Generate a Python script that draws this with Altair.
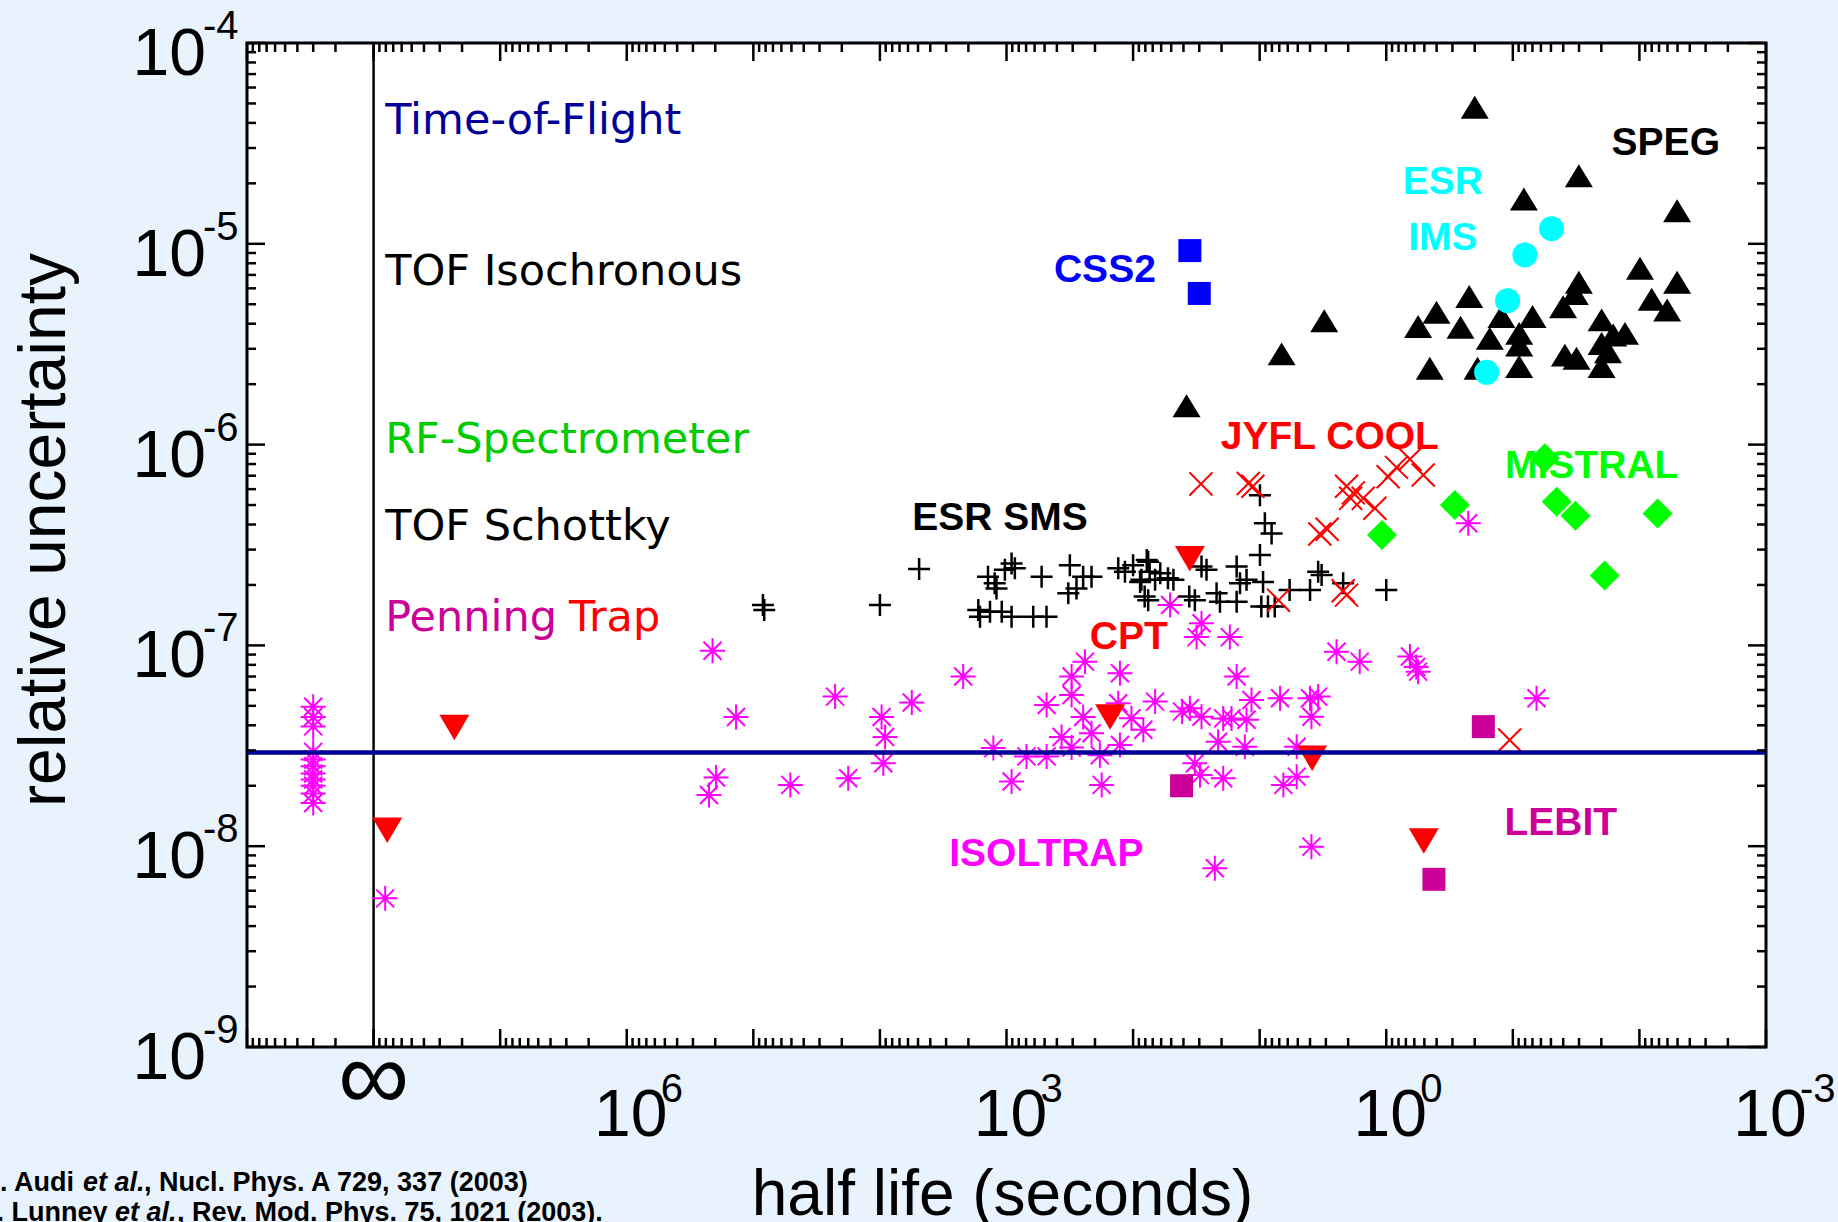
import altair as alt
import pandas as pd

# ---------------- data (half life [s], relative uncertainty) ----------------
STABLE_T = 3.0e8  # stable nuclides are drawn left of the "infinity" line
isoltrap_stable_u = [4.95e-8, 4.4e-8, 3.95e-8, 2.95e-8, 2.7e-8, 2.5e-8, 2.3e-8,
                     2.15e-8, 2.0e-8, 1.83e-8, 1.64e-8]

isoltrap = [
    (8.1e7, 5.5e-9), (2.1e5, 9.4e-8), (1.37e5, 4.4e-8), (1.97e5, 2.2e-8), (2.24e5, 1.8e-8),
    (2.26e4, 5.56e-8), (5.1e4, 2.02e-8), (1.78e4, 2.18e-8), (9.7e3, 4.4e-8), (9.1e3, 3.5e-8),
    (9.4e3, 2.59e-8), (5.6e3, 5.2e-8), (2.2e3, 7.0e-8), (1.27e3, 3.08e-8), (912, 2.1e-8),
    (695, 2.8e-8), (482, 2.8e-8), (482, 5.05e-8), (367, 3.5e-8), (306, 3.1e-8),
    (306, 7.0e-8), (306, 5.66e-8), (240, 8.3e-8), (248, 4.4e-8), (213, 3.65e-8),
    (183, 2.84e-8), (177, 2.02e-8), (127, 7.26e-8), (131, 5.15e-8), (127, 3.19e-8),
    (103, 4.34e-8), (83, 3.8e-8), (51, 1.59e-7), (28.8, 1.29e-7), (31.5, 1.1e-7),
    (17.2, 1.1e-7), (15.2, 7.0e-8), (2.47, 9.3e-8), (1.62, 8.3e-8), (0.65, 8.8e-8),
    (0.58, 7.8e-8), (0.56, 7.4e-8), (0.065, 5.45e-8), (0.225, 4.06e-7), (67, 5.25e-8),
    (41, 4.68e-8), (28.8, 4.41e-8), (19.4, 4.33e-8), (11.6, 5.35e-8), (6.9, 5.45e-8),
    (4.0, 5.45e-8), (3.45, 5.56e-8), (12.7, 4.26e-8), (3.9, 4.41e-8), (21.3, 3.31e-8),
    (13.1, 3.13e-8), (5.1, 3.13e-8), (32.5, 2.59e-8), (29.6, 2.26e-8), (19.4, 2.18e-8),
    (6.5, 2.02e-8), (5.1, 2.22e-8), (3.9, 9.95e-9), (22.6, 7.76e-9), (35.6, 4.86e-8),
    (16.7, 4.33e-8),
]

esr_sms = [
    (8.4e4, 1.59e-7), (8.2e4, 1.5e-7), (1.0e4, 1.59e-7), (4.9e3, 2.4e-7), (1.4e3, 2.2e-7),
    (1.24e3, 2.04e-7), (1.2e3, 1.92e-7), (1.03e3, 2.38e-7), (912, 2.56e-7), (859, 2.42e-7),
    (528, 2.2e-7), (316, 2.51e-7), (248, 2.2e-7), (213, 2.2e-7), (325, 1.82e-7),
    (280, 1.92e-7), (131, 2.42e-7), (116, 2.33e-7), (100, 2.51e-7), (88, 2.07e-7),
    (78, 2.66e-7), (81, 1.75e-7), (1.67e3, 1.5e-7), (1.62e3, 1.39e-7), (1.35e3, 1.47e-7),
    (1.09e3, 1.47e-7), (912, 1.39e-7), (615, 1.39e-7), (483, 1.39e-7), (76, 2.61e-7),
    (74, 2.33e-7), (86, 2.12e-7), (76, 1.68e-7), (67, 2.12e-7), (61, 2.29e-7),
    (53, 2.16e-7), (48, 2.12e-7), (36, 1.75e-7), (32.5, 1.68e-7), (28.8, 2.47e-7),
    (26.3, 2.38e-7), (21.9, 1.82e-7), (20.6, 1.65e-7), (15.2, 2.47e-7), (14.3, 2.04e-7),
    (12.7, 2.12e-7), (9.95, 2.82e-7), (9.4, 2.07e-7), (15.2, 1.65e-7), (9.7, 1.56e-7),
    (8.6, 1.56e-7), (7.6, 1.56e-7), (5.8, 1.89e-7), (4.0, 1.89e-7), (3.45, 2.33e-7),
    (3.24, 2.24e-7), (2.19, 2.04e-7), (1.0, 1.89e-7), (9.95, 5.6e-7), (9.1, 4.06e-7),
    (8.05, 3.61e-7),
]

speg = [
    (0.2, 4.79e-5), (0.0301, 2.18e-5), (0.0818, 1.67e-5), (5.04e-3, 1.46e-5), (9.9e-3, 7.55e-6),
    (5.04e-3, 6.43e-6), (0.0301, 6.43e-6), (0.0324, 5.66e-6), (0.0401, 4.86e-6), (8.0e-3, 5.3e-6),
    (6.04e-3, 4.68e-6), (0.221, 5.46e-6), (0.401, 4.56e-6), (0.56, 3.87e-6), (0.259, 3.84e-6),
    (0.123, 4.34e-6), (0.0699, 4.34e-6), (0.152, 3.38e-6), (0.0891, 3.58e-6), (0.0891, 3.13e-6),
    (0.0199, 4.18e-6), (0.013, 3.58e-6), (0.0161, 3.51e-6), (0.0199, 3.19e-6), (0.0177, 2.9e-6),
    (0.0388, 2.79e-6), (0.0314, 2.69e-6), (0.0199, 2.45e-6), (0.0891, 2.45e-6), (0.453, 2.4e-6),
    (0.19, 2.4e-6), (3.09, 4.14e-6), (6.71, 2.83e-6), (37.8, 1.56e-6),
]

jyfl = [
    (29.1, 6.37e-7), (12.3, 6.4e-7), (11.3, 6.2e-7), (3.35, 3.59e-7), (2.93, 3.79e-7),
    (2.06, 6.2e-7), (1.82, 5.75e-7), (1.91, 5.4e-7), (1.52, 5.4e-7), (1.23, 4.82e-7),
    (0.966, 6.92e-7), (0.83, 7.7e-7), (0.65, 8.45e-7), (0.51, 7.06e-7), (7.1, 1.68e-7),
    (2.19, 1.87e-7), (2.06, 1.78e-7), (0.106, 3.38e-8),
]

penning_red = [(2.3e7, 3.9e-8), (7.8e7, 1.2e-8), (35.6, 2.7e-7), (152, 4.4e-8),
               (3.85, 2.74e-8), (0.505, 1.06e-8)]
lebit = [(41.4, 2.0e-8), (0.171, 3.94e-8), (0.42, 6.84e-9)]
mistral = [(1.08, 3.55e-7), (0.287, 5.0e-7), (0.0558, 8.55e-7), (0.045, 5.2e-7),
           (0.032, 4.42e-7), (0.0188, 2.23e-7), (0.00718, 4.54e-7)]
esr_ims = [(0.0494, 1.19e-5), (0.0804, 8.8e-6), (0.110, 5.21e-6), (0.161, 2.29e-6)]
css2 = [(35.6, 9.25e-6), (30, 5.66e-6)]

INFINITY_T = 1e8
TOF_LIMIT_U = 2.93e-8

y_tick_values = [1e-9, 1e-8, 1e-7, 1e-6, 1e-5, 1e-4]
y_tick_exps = ["-9", "-8", "-7", "-6", "-5", "-4"]
x_label_values = [1e6, 1e3, 1.0, 1e-3]
x_label_exps = ["6", "3", "0", "-3"]

bold_text = ["SPEG", "ESR", "IMS", "CSS2", "JYFL COOL", "MISTRAL", "ESR SMS", "CPT", "ISOLTRAP", "LEBIT"]
bold_t = [6.19e-3, 0.357, 0.357, 167, 2.79, 0.0238, 1127, 108, 484, 0.0418]
bold_u = [3.16e-5, 2.03e-5, 1.07e-5, 7.41e-6, 1.09e-6, 7.82e-7, 4.33e-7, 1.1e-7, 9.14e-9, 1.31e-8]
bold_color = ["#000000", "#00ffff", "#00ffff", "#0000ff", "#ff0000", "#00ff00", "#000000",
              "#ff0000", "#ff00ff", "#cc0099"]

left_text = ["Time-of-Flight", "TOF Isochronous", "RF-Spectrometer", "TOF Schottky", "Penning", "Trap"]
left_t = [8.1e7, 8.1e7, 8.1e7, 8.1e7, 8.1e7, 2.86e6]
left_u = [4.1e-5, 7.24e-6, 1.05e-6, 3.9e-7, 1.37e-7, 1.37e-7]
left_color = ["#000099", "#000000", "#00cc00", "#000000", "#cc0099", "#ff0000"]

# ---------------- chart ----------------
W, H = 1519, 1004
SANS = "Liberation Sans, Arial, sans-serif"
HUMAN = "DejaVu Sans, Verdana, sans-serif"

xs = alt.Scale(type="log", domain=[1e-3, 1e9], reverse=True, nice=False)
ys = alt.Scale(type="log", domain=[1e-9, 1e-4], nice=False)

X = lambda f: alt.X(f, type="quantitative", scale=xs, axis=None)
Y = lambda f: alt.Y(f, type="quantitative", scale=ys, axis=None)

STAR = "M-1,0L1,0M0,-1L0,1M-0.72,-0.72L0.72,0.72M-0.72,0.72L0.72,-0.72"
XCROSS = "M-1,-1L1,1M-1,1L1,-1"
PLUS = "M-1,0L1,0M0,-1L0,1"
TRI_UP = "M0,-0.82L1,0.82L-1,0.82Z"
TRI_DOWN = "M-1,-0.85L1,-0.85L0,0.85Z"


def points(pairs, shape, color, size, filled, sw=2.0):
    df = pd.DataFrame(pairs, columns=["t", "u"])
    return alt.Chart(df).mark_point(
        shape=shape, size=size, filled=filled, color=color, opacity=1, strokeWidth=sw
    ).encode(x=X("t"), y=Y("u"))


stable_df = pd.DataFrame({"t": [STABLE_T] * len(isoltrap_stable_u), "u": isoltrap_stable_u})
stable_layer = alt.Chart(stable_df).mark_point(
    shape=STAR, size=625, filled=False, color="#ff00ff", opacity=1, strokeWidth=2
).encode(x=X("t"), y=Y("u"))

inf_line = alt.Chart(pd.DataFrame({"t": [INFINITY_T]})).mark_rule(
    color="black", strokeWidth=2.5).encode(x=X("t"))
tof_line = alt.Chart(pd.DataFrame({"u": [TOF_LIMIT_U]})).mark_rule(
    color="#000099", strokeWidth=4.5).encode(y=Y("u"))

# tick marks pointing inward on all four sides
x_major = [10.0 ** k for k in range(-3, 10)]
x_minor = [m * 10.0 ** k for k in range(-3, 9) for m in range(2, 10)]
y_major = [10.0 ** k for k in range(-9, -3)]
y_minor = [m * 10.0 ** k for k in range(-9, -4) for m in range(2, 10)]


def xtick(vals, a, b):
    return alt.Chart(pd.DataFrame({"v": vals})).mark_rule(color="black", strokeWidth=2.5).encode(
        x=X("v"), y=alt.value(a), y2=alt.value(b))


def ytick(vals, a, b):
    return alt.Chart(pd.DataFrame({"v": vals})).mark_rule(color="black", strokeWidth=2.5).encode(
        y=Y("v"), x=alt.value(a), x2=alt.value(b))


ticks = [
    xtick(x_major, H, H - 18), xtick(x_minor, H, H - 9),
    xtick(x_major, 0, 18), xtick(x_minor, 0, 9),
    ytick(y_major, 0, 18), ytick(y_minor, 0, 9),
    ytick(y_major, W, W - 18), ytick(y_minor, W, W - 9),
]

ylab_df = pd.DataFrame({"v": y_tick_values, "e": y_tick_exps})
y_ten = alt.Chart(ylab_df).mark_text(text="10", font=SANS, fontSize=66, align="right",
                                     baseline="middle", dy=12).encode(x=alt.value(-41), y=Y("v"))
y_exp = alt.Chart(ylab_df).mark_text(font=SANS, fontSize=40, align="left", baseline="middle",
                                     dy=-16).encode(x=alt.value(-44), y=Y("v"), text="e:N")

xlab_df = pd.DataFrame({"v": x_label_values, "e": x_label_exps})
x_ten = alt.Chart(xlab_df).mark_text(text="10", font=SANS, fontSize=66, align="center",
                                     baseline="middle", dx=4).encode(x=X("v"), y=alt.value(H + 69))
x_exp = alt.Chart(xlab_df).mark_text(font=SANS, fontSize=40, align="left", baseline="middle",
                                     dx=34).encode(x=X("v"), y=alt.value(H + 43), text="e:N")
x_inf = alt.Chart(pd.DataFrame({"v": [INFINITY_T]})).mark_text(
    text="\u221e", font=SANS, fontSize=100, align="center", baseline="middle"
).encode(x=X("v"), y=alt.value(H + 33))

y_title = alt.Chart(pd.DataFrame({"a": [0]})).mark_text(
    text="relative uncertainty", font=SANS, fontSize=66, angle=270, align="center",
    baseline="alphabetic").encode(x=alt.value(-182), y=alt.value(487))
x_title = alt.Chart(pd.DataFrame({"a": [0]})).mark_text(
    text="half life (seconds)", font=SANS, fontSize=64, align="center",
    baseline="alphabetic").encode(x=alt.value(W / 2 - 4), y=alt.value(1172))

# citations (partly cut at the left edge, as in the original)
cite_parts = [
    ("G. Audi", "normal", -268, 1148), ("et al.", "italic", -164, 1148),
    (", Nucl. Phys. A 729, 337 (2003)", "normal", -103, 1148),
    ("D. Lunney", "normal", -270, 1178), ("et al.", "italic", -132, 1178),
    (", Rev. Mod. Phys. 75, 1021 (2003).", "normal", -70, 1178),
]
cites = []
for txt, style, px, py in cite_parts:
    cites.append(alt.Chart(pd.DataFrame({"a": [0]})).mark_text(
        text=txt, font=SANS, fontSize=27, fontWeight="bold", fontStyle=style, align="left",
        baseline="alphabetic", color="black").encode(x=alt.value(px), y=alt.value(py)))

bold_df = pd.DataFrame({"text": bold_text, "t": bold_t, "u": bold_u, "c": bold_color})
bold_layer = alt.Chart(bold_df).mark_text(font=SANS, fontSize=39, fontWeight="bold",
                                          align="center", baseline="middle").encode(
    x=X("t"), y=Y("u"), text="text:N", color=alt.Color("c:N", scale=None))

left_df = pd.DataFrame({"text": left_text, "t": left_t, "u": left_u, "c": left_color})
left_layer = alt.Chart(left_df).mark_text(font=HUMAN, fontSize=43, align="left",
                                          baseline="middle").encode(
    x=X("t"), y=Y("u"), text="text:N", color=alt.Color("c:N", scale=None))

layers = [
    inf_line,
    stable_layer,
    points(isoltrap, STAR, "#ff00ff", 625, False, 2),
    points(esr_sms, PLUS, "#000000", 484, False, 2.5),
    points(jyfl, XCROSS, "#ff0000", 530, False, 2),
    points(speg, TRI_UP, "#000000", 784, True),
    points(esr_ims, "circle", "#00ffff", 625, True),
    points(css2, "square", "#0000ff", 529, True),
    points(mistral, "diamond", "#00ff00", 900, True),
    points(lebit, "square", "#cc0099", 529, True),
    points(penning_red, TRI_DOWN, "#ff0000", 900, True),
    tof_line,
    *ticks,
    y_ten, y_exp, x_ten, x_exp, x_inf, y_title, x_title, *cites,
    bold_layer, left_layer,
]

chart = alt.layer(*layers).properties(
    width=W, height=H, background="#e9f3fe",
    padding={"left": 247, "top": 43, "right": 72, "bottom": 175},
    autosize=alt.AutoSizeParams(type="none"),
).configure_view(stroke="black", strokeWidth=3, fill="white")

chart.save("out.html", embed_options={"renderer": "svg", "actions": False})
